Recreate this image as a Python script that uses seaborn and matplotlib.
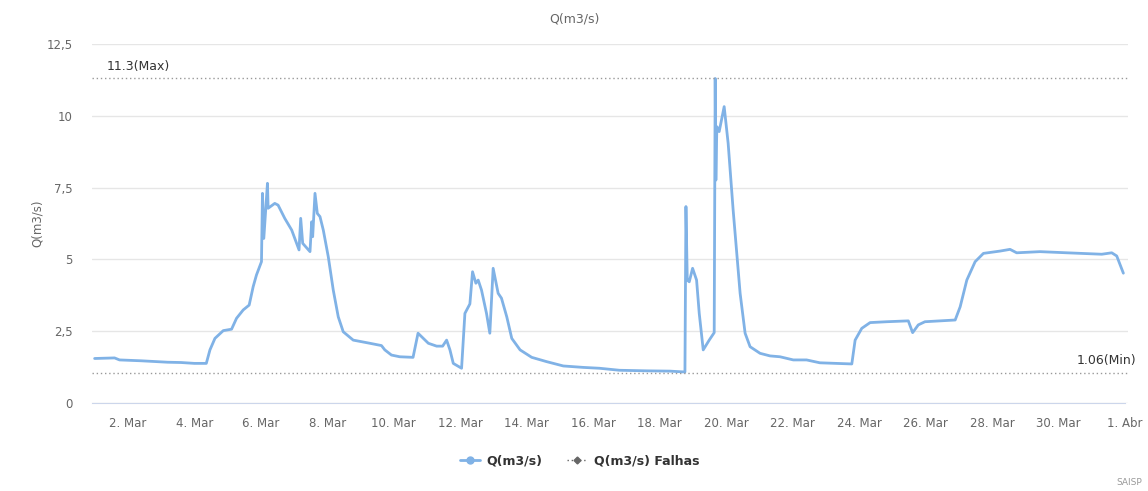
import matplotlib
matplotlib.use("Agg")
import matplotlib.pyplot as plt
from matplotlib.lines import Line2D
import pandas as pd
import seaborn as sns

# Discharge readings, x = day of March (32 = 1 Abr), y = Q in m3/s
days = [1.00, 1.60, 1.75, 2.40, 3.20, 3.60, 4.00, 4.36, 4.47, 4.62, 4.87, 5.12,
        5.27, 5.47, 5.65, 5.77, 5.87, 6.02, 6.05, 6.09, 6.20, 6.22, 6.42, 6.52,
        6.72, 6.93, 7.15, 7.20, 7.26, 7.48, 7.53, 7.56, 7.63, 7.70, 7.78, 7.88,
        8.03, 8.18, 8.33, 8.48, 8.78, 9.28, 9.63, 9.73, 9.93, 10.18, 10.58, 10.73,
        11.04, 11.29, 11.47, 11.59, 11.69, 11.79, 12.04, 12.14, 12.29, 12.37, 12.47,
        12.54, 12.64, 12.79, 12.89, 12.99, 13.14, 13.24, 13.40, 13.55, 13.80, 14.15,
        14.60, 15.10, 15.70, 16.19, 16.79, 17.61, 18.31, 18.76, 18.79, 18.83, 18.89,
        18.99, 19.11, 19.19, 19.31, 19.49, 19.64, 19.67, 19.69, 19.72, 19.79, 19.94,
        20.06, 20.21, 20.42, 20.57, 20.72, 21.02, 21.32, 21.62, 22.02, 22.42, 22.82,
        23.78, 23.88, 24.08, 24.33, 24.83, 25.48, 25.61, 25.78, 25.98, 26.89, 27.04,
        27.24, 27.49, 27.74, 28.24, 28.54, 28.74, 29.44, 30.25, 31.30, 31.60, 31.75,
        31.95]
vazao = [1.55, 1.57, 1.50, 1.47, 1.42, 1.41, 1.38, 1.38, 1.85, 2.25, 2.52, 2.57,
         2.95, 3.24, 3.41, 4.05, 4.46, 4.92, 7.30, 5.73, 7.65, 6.78, 6.95, 6.89,
         6.43, 6.02, 5.33, 6.43, 5.56, 5.27, 6.31, 5.79, 7.30, 6.60, 6.49, 6.02,
         5.09, 3.93, 3.00, 2.48, 2.19, 2.08, 2.00, 1.85, 1.67, 1.61, 1.59, 2.43,
         2.08, 1.98, 1.98, 2.19, 1.85, 1.38, 1.21, 3.12, 3.45, 4.57, 4.17,
         4.28, 3.93, 3.12, 2.43, 4.69, 3.82, 3.65, 3.00, 2.25, 1.85, 1.59,
         1.44, 1.29, 1.24, 1.21, 1.14, 1.12, 1.11, 1.08, 6.84, 4.28, 4.22,
         4.69, 4.28, 3.12, 1.85, 2.19, 2.45, 11.30, 7.76, 9.62, 9.45, 10.32,
         9.04, 6.72, 3.82, 2.43, 1.96, 1.73, 1.64, 1.61, 1.50, 1.50, 1.40,
         1.36, 2.19, 2.60, 2.80, 2.83, 2.86, 2.45, 2.72, 2.83, 2.89, 3.35,
         4.28, 4.92, 5.21, 5.29, 5.35, 5.23, 5.27, 5.23, 5.18, 5.23, 5.12,
         4.52]

tick_days = [2, 4, 6, 8, 10, 12, 14, 16, 18, 20, 22, 24, 26, 28, 30, 32]
tick_labels = ["2. Mar", "4. Mar", "6. Mar", "8. Mar", "10. Mar", "12. Mar",
               "14. Mar", "16. Mar", "18. Mar", "20. Mar", "22. Mar", "24. Mar",
               "26. Mar", "28. Mar", "30. Mar", "1. Abr"]
y_ticks = [0, 2.5, 5, 7.5, 10, 12.5]
y_labels = ["0", "2,5", "5", "7,5", "10", "12,5"]
q_max = 11.3
q_min = 1.06

df = pd.DataFrame({"dia": days, "Q": vazao})

sns.set_style("white")
plt.rcParams["font.family"] = ["DejaVu Sans"]

fig = plt.figure(figsize=(11.48, 4.91), dpi=100)
ax = fig.add_axes([0.0801, 0.1792, 0.9025, 0.7312])

sns.lineplot(data=df, x="dia", y="Q", ax=ax, color="#80b2e6", linewidth=2)

ax.set_xlim(0.92, 32.09)
ax.set_ylim(0, 12.5)
ax.set_yticks(y_ticks)
ax.set_yticklabels(y_labels)
ax.set_xticks(tick_days)
ax.set_xticklabels(tick_labels)
ax.grid(axis="y", color="#e6e6e6", linewidth=1)
ax.set_axisbelow(True)
for s in ["top", "right", "left"]:
    ax.spines[s].set_visible(False)
ax.spines["bottom"].set_color("#ccd6eb")
ax.spines["bottom"].set_bounds(0.92, 32.0)
ax.tick_params(axis="x", colors="#ccd6eb", length=8, width=1, labelcolor="#666666",
               labelsize=8.5, pad=2)
ax.tick_params(axis="y", length=0, labelcolor="#666666", labelsize=8.5, pad=14)
ax.set_xlabel("")
ax.set_ylabel("Q(m3/s)", color="#666666", fontsize=8.5, labelpad=2)

# max / min reference lines
ax.axhline(q_max, color="#999999", linestyle=(0, (1, 2)), linewidth=1)
ax.axhline(q_min, color="#999999", linestyle=(0, (1, 2)), linewidth=1)
ax.text(1.35, q_max + 0.2, f"{q_max}(Max)", fontsize=9, color="#333333", va="bottom")
ax.text(32.35, q_min + 0.2, f"{q_min}(Min)", fontsize=9, color="#333333",
        va="bottom", ha="right", clip_on=False)

fig.text(0.5, 0.962, "Q(m3/s)", ha="center", va="center", fontsize=9, color="#666666")

handles = [
    Line2D([], [], color="#80b2e6", linewidth=2, marker="o", markersize=5),
    Line2D([], [], color="#666666", linewidth=1, linestyle=(0, (1, 2)),
           marker="D", markersize=3.5),
]
fig.legend(handles, ["Q(m3/s)", "Q(m3/s) Falhas"], loc="center",
           bbox_to_anchor=(0.505, 0.062), ncol=2, frameon=False,
           prop={"weight": "bold", "size": 9}, labelcolor="#333333",
           handlelength=1.6, columnspacing=2.0, handletextpad=0.5)

fig.text(0.995, 0.018, "SAISP", ha="right", va="center", fontsize=6.5, color="#999999")

fig.savefig("out.png", dpi=100)
